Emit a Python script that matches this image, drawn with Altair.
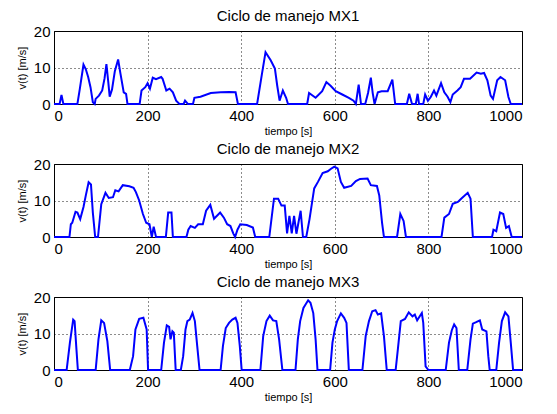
import altair as alt
import pandas as pd

# ---- data ----
t1 = [0, 12, 16, 20, 50, 55, 63, 68, 73, 78, 83, 87, 89, 96, 103, 108, 112, 116, 119, 124, 130, 137, 142, 149, 154, 157,
      183, 187, 195, 200, 205, 211, 218, 229, 232, 240, 247, 254, 261, 268, 277, 280, 286, 297, 300, 313, 335, 356, 374,
      388, 393, 434, 444, 452, 463, 472, 477, 482, 489, 496, 500, 541, 545, 559, 573, 582, 591, 602, 616, 630, 640, 645,
      651, 656, 665, 671, 677, 681, 685, 692, 700, 713, 723, 729, 754, 759, 765, 773, 777, 780, 789, 793, 799, 805, 812,
      817, 827, 834, 841, 847, 852, 862, 869, 876, 889, 903, 912, 919, 926, 933, 938, 947, 954, 964, 971, 976, 1000]
v1 = [0, 0, 2.5, 0, 0, 4, 10.8, 9.5, 7.4, 4.6, 0.5, 0, 1.4, 2.3, 3.7, 7, 10.9, 6, 2, 4, 9, 12.2, 8.3, 3.2, 2.8, 0,
      0, 3.7, 4.6, 5.7, 4.2, 7.2, 6.8, 7.4, 6.9, 3.7, 4.2, 3.2, 0.9, 0, 0, 0.9, 0, 0, 1.7, 2, 3, 3.2, 3.3,
      3.2, 0, 0, 8, 14.2, 12, 9.7, 5, 0.9, 3.7, 1.7, 0, 0, 3, 1.7, 3.5, 6, 5, 3.5, 2.6, 1.7, 0.9, 0,
      5.3, 0, 0, 3, 7.2, 3, 0, 3.2, 3.5, 3.5, 6.7, 0, 0, 2.8, 0, 0, 2.8, 0, 0, 2.6, 0.9, 1.9, 3.7,
      2.3, 5.7, 3.2, 2, 0.5, 2.6, 3.7, 4.6, 6.9, 6.9, 8.6, 8.3, 8.5, 6.5, 2.3, 1.4, 6.5, 7.4, 6.5, 1.9, 0, 0]

t2 = [0, 33, 36, 39, 46, 50, 56, 63, 68, 74, 79, 83, 88, 94, 101, 110, 117, 126, 131, 138, 147, 161, 170, 175, 182,
      190, 197, 204, 209, 213, 218, 239, 244, 251, 254, 283, 287, 292, 301, 308, 318, 325, 334, 342, 355, 363, 370,
      377, 383, 387, 392, 398, 412, 425, 430, 460, 470, 479, 486, 493, 498, 503, 508, 513, 518, 527, 532, 539, 546,
      556, 564, 574, 585, 592, 599, 606, 613, 620, 635, 645, 654, 670, 677, 690, 695, 701, 705, 733, 740, 747, 752,
      828, 834, 844, 852, 863, 870, 884, 890, 895, 936, 939, 945, 953, 960, 966, 972, 978, 1000]
v2 = [0, 0, 3.5, 3.9, 6.9, 6.7, 4.9, 8.2, 11.4, 15, 14.4, 6.7, 0, 0, 9, 12.1, 10.7, 10.9, 12.8, 12.5, 14.2, 13.9, 13.5, 12.3, 10,
      6.3, 3.9, 3.5, 0, 2.8, 0, 0, 6.7, 6.7, 0, 0, 2, 3, 2.5, 3.5, 3.5, 7.2, 8.8, 5, 6.7, 5.3, 3.5,
      3, 1, 0, 2, 3.5, 3.3, 2.6, 0, 0, 10.5, 10.5, 8.6, 8.6, 1, 5.8, 1, 5.8, 0.9, 7.2, 0, 0, 4.9,
      13.3, 15.1, 17.5, 18, 18.7, 19.3, 18.8, 15.1, 13.5, 14, 15.3, 15.9, 16, 14.2, 14, 11.4, 3.9, 0, 0, 6.3, 4.4, 0,
      0, 5.3, 6.3, 9.1, 9.6, 10.5, 12.1, 10.5, 0, 0, 2, 1.6, 6.7, 6.3, 2.5, 3, 0, 0]

t3 = [0, 27, 34, 41, 44, 48, 51, 89, 95, 101, 107, 114, 120, 162, 169, 174, 182, 191, 198, 201, 229, 235, 241, 246,
      249, 253, 256, 260, 271, 276, 281, 285, 290, 296, 301, 306, 311, 356, 361, 367, 374, 381, 388, 392, 397, 401,
      441, 447, 454, 461, 468, 475, 481, 488, 516, 521, 526, 533, 543, 548, 554, 559, 563, 590, 595, 600, 605, 613,
      620, 625, 630, 659, 666, 673, 680, 687, 692, 699, 705, 711, 730, 735, 741, 750, 758, 766, 771, 776, 786, 789,
      794, 800, 837, 844, 850, 855, 860, 865, 883, 890, 895, 902, 910, 915, 924, 928, 931, 945, 951, 957, 964, 971,
      976, 981, 1000]
v3 = [0, 0, 7.5, 13.8, 13.4, 5.6, 0, 0, 8.4, 13.6, 12.9, 7.9, 0, 0, 3.8, 11.1, 14, 14.3, 11.1, 0, 0, 7.5, 12.2, 11.8,
      8.4, 10.6, 10.2, 0, 0, 3.8, 11.1, 13.4, 13.8, 15.6, 13.4, 6.6, 0, 0, 6.6, 11.5, 12.9, 13.8, 14.3, 12.9, 6.6, 0,
      0, 9.3, 13.4, 14.9, 13.6, 13.4, 8.4, 0, 0, 8.4, 13.4, 17, 19.1, 18.4, 15.6, 8.4, 0, 0, 7.5, 11.1, 13.4, 15.5,
      14.3, 12.9, 0, 0, 9.3, 13.4, 16.1, 16.4, 15.2, 15.5, 9.3, 0, 0, 6, 13.4, 14, 15.8, 14.7, 15.2, 13.6, 15.6, 12.9,
      1, 0, 0, 7.5, 10.9, 12.5, 11.5, 0, 0, 8.4, 12.7, 13.1, 13.6, 11.1, 10.6, 3.8, 0, 0, 7.5, 13.4, 15.8, 14.7,
      7.5, 0, 0]

titles = ["Ciclo de manejo MX1", "Ciclo de manejo MX2", "Ciclo de manejo MX3"]
x_ticks = [0, 200, 400, 600, 800, 1000]
y_ticks = [0, 10, 20]

FONT = "Liberation Sans"


def panel(t, v, title):
    df = pd.DataFrame({"t": t, "v": v})
    return alt.Chart(df).mark_line(color="#0000ff", strokeWidth=2).encode(
        x=alt.X("t:Q", scale=alt.Scale(domain=[0, 1000], nice=False),
                axis=alt.Axis(values=x_ticks, title="tiempo [s]", grid=True, format="d")),
        y=alt.Y("v:Q", scale=alt.Scale(domain=[0, 20], nice=False),
                axis=alt.Axis(values=y_ticks, title="v(t) [m/s]", grid=True, format="d")),
    ).properties(width=468, height=73,
                 title=alt.TitleParams(title, fontSize=15, fontWeight="normal", font=FONT,
                                       color="black", offset=0))


chart = alt.vconcat(
    panel(t1, v1, titles[0]),
    panel(t2, v2, titles[1]),
    panel(t3, v3, titles[2]),
    spacing=4,
).properties(
    padding={"left": 7, "top": 0, "right": 5, "bottom": 0},
    background="white",
).configure_view(
    stroke="black", strokeWidth=1
).configure_axis(
    domain=False, ticks=False,
    labelFont=FONT, labelFontSize=15, labelColor="black",
    titleFont=FONT, titleFontSize=11, titleFontWeight="normal", titleColor="black",
    gridColor="black", gridDash=[1, 3], gridOpacity=0.9, gridWidth=1,
).configure_axisX(
    labelPadding=4, titlePadding=2,
).configure_axisY(
    labelPadding=4, titlePadding=6,
)

chart.save("out.html", embed_options={"renderer": "svg", "actions": False})
